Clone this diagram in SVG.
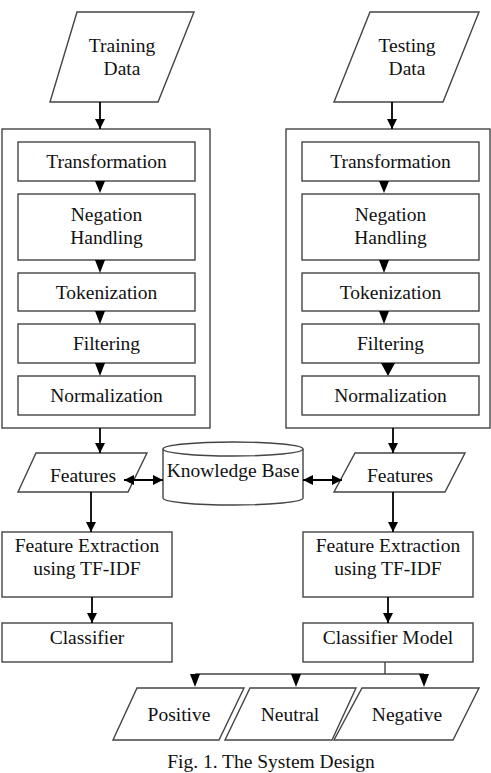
<svg xmlns="http://www.w3.org/2000/svg" width="491" height="773" viewBox="0 0 491 773">
<defs>
<style>
.s{fill:#fff;stroke:#444;stroke-width:1.4}
.t{font-family:"Liberation Serif","Times New Roman",serif;font-size:19.5px;fill:#111;text-anchor:middle}
.c{fill:none;stroke:#000;stroke-width:1.8}
.tri{fill:#000}
</style>
<marker id="ah" viewBox="0 0 10 10" refX="10" refY="5" markerWidth="10" markerHeight="10" markerUnits="userSpaceOnUse" orient="auto-start-reverse">
<path d="M0,0 L10,5 L0,10 z" fill="#000"/>
</marker>
</defs>
<rect width="491" height="773" fill="#fff"/>

<g id="training-data"><polygon class="s" points="77,12 194,12 158,102 50,102"/><text class="t" x="122" y="52">Training</text><text class="t" x="122" y="75">Data</text></g>
<g id="testing-data"><polygon class="s" points="370,12 479,12 443,102 334,102"/><text class="t" x="407" y="52">Testing</text><text class="t" x="407" y="75">Data</text></g>

<g id="left-pre"><rect class="s" x="2" y="129" width="208" height="299"/></g>
<g id="right-pre"><rect class="s" x="286" y="129" width="204" height="299"/></g>

<g id="l-transformation"><rect class="s" x="18" y="142" width="177" height="39"/><text class="t" x="106.5" y="168">Transformation</text></g>
<g id="l-negation"><rect class="s" x="18" y="194" width="177" height="66"/><text class="t" x="106.5" y="221">Negation</text><text class="t" x="106.5" y="244">Handling</text></g>
<g id="l-tokenization"><rect class="s" x="18" y="273" width="177" height="38"/><text class="t" x="106.5" y="299">Tokenization</text></g>
<g id="l-filtering"><rect class="s" x="18" y="324" width="177" height="39"/><text class="t" x="106.5" y="350">Filtering</text></g>
<g id="l-normalization"><rect class="s" x="18" y="376" width="177" height="39"/><text class="t" x="106.5" y="402">Normalization</text></g>

<g id="r-transformation"><rect class="s" x="302" y="142" width="177" height="39"/><text class="t" x="390.5" y="168">Transformation</text></g>
<g id="r-negation"><rect class="s" x="302" y="194" width="177" height="66"/><text class="t" x="390.5" y="221">Negation</text><text class="t" x="390.5" y="244">Handling</text></g>
<g id="r-tokenization"><rect class="s" x="302" y="273" width="177" height="38"/><text class="t" x="390.5" y="299">Tokenization</text></g>
<g id="r-filtering"><rect class="s" x="302" y="324" width="177" height="39"/><text class="t" x="390.5" y="350">Filtering</text></g>
<g id="r-normalization"><rect class="s" x="302" y="376" width="177" height="39"/><text class="t" x="390.5" y="402">Normalization</text></g>

<g id="l-features"><polygon class="s" points="36,453 147,453 128,492 18,492"/><text class="t" x="83" y="482">Features</text></g>
<g id="r-features"><polygon class="s" points="355,453 465,453 445,492 334,492"/><text class="t" x="400" y="482">Features</text></g>

<g id="knowledge-base">
<path class="s" d="M163,449 L163,498 A70,7 0 0 0 303,498 L303,449"/>
<ellipse class="s" cx="233" cy="449" rx="70" ry="7"/>
<text class="t" x="233" y="477">Knowledge Base</text>
</g>

<g id="l-fe"><rect class="s" x="2" y="532" width="170" height="65"/><text class="t" x="87" y="552">Feature Extraction</text><text class="t" x="87" y="575">using TF-IDF</text></g>
<g id="r-fe"><rect class="s" x="303" y="532" width="170" height="65"/><text class="t" x="388" y="552">Feature Extraction</text><text class="t" x="388" y="575">using TF-IDF</text></g>

<g id="classifier"><rect class="s" x="2" y="623" width="170" height="39"/><text class="t" x="87" y="644">Classifier</text></g>
<g id="classifier-model"><rect class="s" x="303" y="623" width="170" height="39"/><text class="t" x="388" y="644">Classifier Model</text></g>

<g id="positive"><polygon class="s" points="137,688 244,688 219,740 113,740"/><text class="t" x="179" y="721">Positive</text></g>
<g id="neutral"><polygon class="s" points="250,688 356,688 332,740 225,740"/><text class="t" x="290" y="721">Neutral</text></g>
<g id="negative"><polygon class="s" points="362,688 479,688 453,740 334,740"/><text class="t" x="407" y="721">Negative</text></g>

<g id="connectors">
<path class="c" d="M100,102 V129" marker-end="url(#ah)"/>
<path class="c" d="M392,102 V129" marker-end="url(#ah)"/>
<polygon class="tri" points="95,181 105,181 100,193"/>
<polygon class="tri" points="95,260 105,260 100,273"/>
<polygon class="tri" points="95,311 105,311 100,324"/>
<polygon class="tri" points="95,363 105,363 100,376"/>
<polygon class="tri" points="379,181 389,181 384,193"/>
<polygon class="tri" points="379,260 389,260 384,273"/>
<polygon class="tri" points="379,311 389,311 384,324"/>
<polygon class="tri" points="381,363 395,363 388,376"/>
<path class="c" d="M100,428 V453" marker-end="url(#ah)"/>
<path class="c" d="M393,428 V453" marker-end="url(#ah)"/>
<path class="c" d="M124,480 H163" marker-start="url(#ah)" marker-end="url(#ah)"/>
<path class="c" d="M303,480 H342" marker-start="url(#ah)" marker-end="url(#ah)"/>
<path class="c" d="M91,492 V532" marker-end="url(#ah)"/>
<path class="c" d="M393,492 V532" marker-end="url(#ah)"/>
<path class="c" d="M92,597 V623" marker-end="url(#ah)"/>
<path class="c" d="M388,597 V623" marker-end="url(#ah)"/>
<path d="M385,662 V674 M195,674 H424" fill="none" stroke="#444" stroke-width="1.4"/>
<polygon class="tri" points="190,674 200,674 195,687"/>
<polygon class="tri" points="291,674 301,674 296,687"/>
<polygon class="tri" points="419,674 429,674 424,687"/>
</g>

<text class="t" x="271" y="768">Fig. 1. The System Design</text>
</svg>
